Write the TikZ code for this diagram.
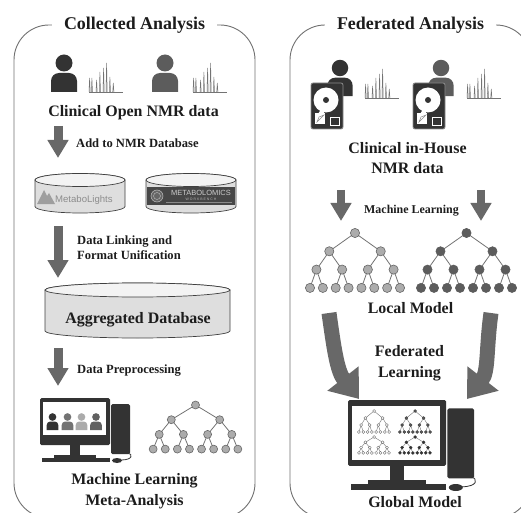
\documentclass[tikz,border=0pt]{standalone}
\usepackage{fontspec}
\setmainfont{Liberation Serif}
\newfontfamily\logofont{Liberation Sans}
\usetikzlibrary{arrows.meta}
\definecolor{cInk}{HTML}{1C1C1C}
\definecolor{cDark}{HTML}{333333}
\definecolor{cMid}{HTML}{5C5C5C}
\definecolor{cArrow}{HTML}{686868}
\definecolor{cLight}{HTML}{ACACAC}
\definecolor{cFrame}{HTML}{707070}
\definecolor{cDrum}{HTML}{DEDEDE}
\definecolor{cDrumTop}{HTML}{F3F3F3}

% person icon, head centre at #1,#2
\newcommand{\person}[4]{%
  \begin{scope}[shift={(#1,#2)}, scale=#3]
    \fill[#4] (0,0) circle[radius=8.5];
    \fill[#4] (-13,29) -- (-13,18) arc[start angle=180, end angle=270, radius=8]
      -- (5,10) arc[start angle=270, end angle=360, radius=8] -- (13,29) -- cycle;
  \end{scope}}

% NMR spectrum, left end of the baseline at #1,#2
\newcommand{\spectrum}[2]{%
  \begin{scope}[shift={(#1,#2)}]
    \draw[spec] (0,0) -- (34,0);
    \foreach \px/\ph in {0.6/14, 2.9/14, 7.6/12, 10.9/20, 14.6/24, 17.6/29, 20.9/15, 24.3/9}
      \draw[spec] (\px-0.6,0) -- (\px,-\ph) -- (\px+0.6,0);
  \end{scope}}

% hard disk, top left corner at #1,#2
\newcommand{\hdd}[2]{%
  \begin{scope}[shift={(#1,#2)}]
    \filldraw[fill=cDark, draw=black!45, line width=0.8bp, rounded corners=2bp] (0,0) rectangle (32,46);
    \fill[white] (15,17) circle[radius=12.5];
    \fill[cDark] (15,17) circle[radius=3];
    \fill[white] (4,30) rectangle (14,41);
    \fill[white] (14,20) -- (17,22) -- (11,33) -- (7,31) -- cycle;
    \draw[black!45, line width=0.5bp] (6,39) -- (13,32) -- (8,34) -- cycle;
    \draw[white, line width=0.7bp] (19,34) rectangle (28,42);
  \end{scope}}

% desktop computer, monitor corner at #1,#2, scale #3, screen bottom #4
\newcommand{\computer}[4]{%
  \begin{scope}[shift={(#1,#2)}, scale=#3]
    \fill[cDark, rounded corners=1.5bp] (0,0) rectangle (70,47);
    \fill[white] (3,4) rectangle (66,#4);
    \fill[cDark] (30,46) rectangle (40,58);
    \fill[cDark] (14,57) rectangle (56,60);
    \fill[cDark] (2,60) rectangle (70,64);
    \fill[cDark, rounded corners=1.5bp] (71,6) rectangle (90,56);
    \fill[cDark] (77,62.5) ellipse[x radius=5, y radius=2.5];
    \draw[cDark, line width=0.8bp] (81,62) .. controls (93,62) and (93,56) .. (88,55);
  \end{scope}}

% database drum: centre x, top y, bottom y, x radius, y radius
\newcommand{\dbdrum}[5]{%
  \filldraw[drum] ({#1-#4},#2) -- ({#1-#4},#3)
    arc[start angle=180, end angle=0, x radius=#4, y radius=#5]
    -- ({#1+#4},#2) arc[start angle=0, end angle=-180, x radius=#4, y radius=#5] -- cycle;
  \filldraw[drumtop] (#1,#2) ellipse[x radius=#4, y radius=#5];}

% full binary tree of depth 3: centre x, root y, leaf gap, level gap, radius, fill, outline
\newcommand{\bintree}[7]{%
  \foreach \lv in {0,1,2} {
    \pgfmathtruncatemacro{\nn}{2^\lv-1}
    \foreach \ix in {0,...,\nn} {
      \pgfmathsetmacro{\xa}{#1+(\ix-\nn/2)*#3*2^(3-\lv)}
      \pgfmathsetmacro{\xb}{#1+(2*\ix-(2*\nn+1)/2)*#3*2^(2-\lv)}
      \pgfmathsetmacro{\xc}{\xb+#3*2^(2-\lv)}
      \pgfmathsetmacro{\ya}{#2+\lv*#4}
      \pgfmathsetmacro{\yb}{\ya+#4}
      \draw[treeedge] (\xb,\yb) -- (\xa,\ya) -- (\xc,\yb);
    }
  }
  \foreach \lv in {0,...,3} {
    \pgfmathtruncatemacro{\nn}{2^\lv-1}
    \foreach \ix in {0,...,\nn} {
      \pgfmathsetmacro{\xa}{#1+(\ix-\nn/2)*#3*2^(3-\lv)}
      \filldraw[treenode, fill=#6, draw=#7] (\xa,{#2+\lv*#4}) circle[radius=#5];
    }
  }}

\begin{document}
\begin{tikzpicture}[x=1bp, y=-1bp,
  panel/.style={draw=cFrame, line width=0.9bp, rounded corners=35bp},
  paneltitle/.style={fill=white, inner xsep=12bp, inner ysep=2bp, anchor=base,
    text=cInk, font=\fontsize{18}{20}\selectfont\bfseries},
  biglabel/.style={anchor=base, align=center, inner sep=0pt, text=cInk,
    font=\fontsize{16}{20.5}\selectfont\bfseries},
  steplabel/.style={anchor=base west, align=left, inner sep=0pt, text=cInk,
    font=\fontsize{12.6}{15.5}\selectfont\bfseries},
  flow/.style={draw=cArrow, line width=9bp, -{Triangle[length=18bp, width=20bp]}},
  fedflow/.style={draw=cArrow, line width=15bp, -{Triangle[length=26bp, width=38bp]}},
  drum/.style={fill=cDrum, draw=black!75, line width=0.7bp},
  drumtop/.style={fill=cDrumTop, draw=black!75, line width=0.7bp},
  spec/.style={draw=black!55, line width=0.5bp},
  treeedge/.style={draw=black!55, line width=0.8bp},
  treenode/.style={line width=0.6bp},
]
\useasboundingbox (0,0) rectangle (521,513);
\clip (0,0) rectangle (521,513);

% Panels and their titles.
\draw[panel] (14,25) rectangle (255,518);
\draw[panel] (290,25) rectangle (531,518);
\node[paneltitle] (colltitle) at (134.5,30) {Collected Analysis};
\node[paneltitle] (fedtitle) at (410.5,30) {Federated Analysis};

% Collected analysis: open data.
\person{64}{63}{1}{cDark}
\spectrum{89}{92}
\person{165}{63}{1}{cMid}
\spectrum{193}{92}
\node[biglabel] (opendata) at (133.5,117) {Clinical Open NMR data};

\coordinate (addtop) at (58,126);
\coordinate (addtip) at (58,158);
\draw[flow] (addtop) -- (addtip);
\node[steplabel] (addlbl) at (76,148) {Add to NMR Database};

% Public repositories.
\dbdrum{80}{180}{206.5}{45}{6.5}
\fill[black!38] (37,204) -- (44,190) -- (47,196) -- (49,193) -- (55,204) -- cycle;
\node[anchor=base west, inner sep=0pt, text=black!45,
  font=\logofont\fontsize{9.6}{11}\selectfont] (mlights) at (55,203) {MetaboLights};
\dbdrum{191}{180}{206.5}{45}{6.5}
\fill[black!72] (147,187) rectangle (235,205);
\filldraw[fill=black!60, draw=black!25, line width=0.5bp] (157,196) circle[radius=6];
\draw[black!25, line width=0.4bp] (157,196) circle[radius=3.5];
\draw[black!45, line width=0.4bp] (166,202) -- (232,202);
\node[inner sep=0pt, text=black!20,
  font=\logofont\fontsize{7.5}{8}\selectfont] (mworkbench) at (201,193) {METABOLOMICS};
\node[inner sep=0pt, text=black!30,
  font=\logofont\fontsize{3.5}{4}\selectfont] (mwbsub) at (201,199) {W O R K B E N C H};

\coordinate (linktop) at (58,226);
\coordinate (linktip) at (58,278);
\draw[flow] (linktop) -- (linktip);
\node[steplabel] (linklbl) at (77,259.5) {Data Linking and\\Format Unification};

% Aggregated store.
\dbdrum{137.5}{290}{331}{92.5}{7}
\node[biglabel] (agglbl) at (138,323) {Aggregated Database};

\coordinate (pretop) at (58,348);
\coordinate (pretip) at (58,386);
\draw[flow] (pretop) -- (pretip);
\node[steplabel] (prelbl) at (77,373) {Data Preprocessing};

% Central workstation and model.
\computer{40}{398}{1}{37}
\person{52.5}{417}{0.45}{cDark}
\person{67.5}{417}{0.45}{black!55}
\person{81.5}{417}{0.45}{black!33}
\person{96}{417}{0.45}{black!62}
\bintree{195.5}{405}{12.1}{14.7}{4}{cLight}{black!60}
\node[biglabel] (metalbl) at (134.5,505) {Machine Learning\\Meta-Analysis};

% Federated analysis: in-house data.
\person{340}{68}{0.97}{cDark}
\hdd{311}{83}
\spectrum{365}{98}
\person{441}{68}{0.97}{cMid}
\hdd{413}{83}
\spectrum{467}{98}
\node[biglabel] (inhouse) at (407.5,174) {Clinical in-House\\NMR data};

\coordinate (mlLtop) at (341,190);
\coordinate (mlLtip) at (341,221);
\coordinate (mlRtop) at (481,190);
\coordinate (mlRtip) at (481,221);
\draw[flow, line width=8bp] (mlLtop) -- (mlLtip);
\draw[flow, line width=8bp] (mlRtop) -- (mlRtip);
\node[steplabel, anchor=base, font=\fontsize{12}{14}\selectfont\bfseries]
  (mllbl) at (411.5,213) {Machine Learning};

% Local models.
\bintree{355}{233}{12.86}{18.3}{4.6}{cLight}{black!60}
\bintree{466.5}{233}{13}{18.3}{4.6}{cMid}{cMid}
\node[biglabel] (locallbl) at (410.5,313) {Local Model};

\coordinate (fedLtop) at (329,313);
\coordinate (fedLtip) at (359,399);
\coordinate (fedRtop) at (491,313);
\coordinate (fedRtip) at (467,399);
\draw[fedflow] (fedLtop) to[out=-82, in=128] (fedLtip);
\draw[fedflow] (fedRtop) to[out=-98, in=52] (fedRtip);
\node[biglabel] (fedlbl) at (409.5,377) {Federated\\Learning};

% Global model.
\computer{348}{400}{1.4}{42.5}
\begin{scope}[treeedge/.append style={line width=0.4bp}, treenode/.append style={line width=0.35bp}]
  \bintree{374}{411}{4.3}{7}{1.5}{white}{black!60}
  \bintree{415}{411}{4.3}{7}{1.5}{cMid}{cDark}
  \bintree{374}{437}{4.3}{5.3}{1.5}{white}{black!60}
  \bintree{415}{437}{4.3}{5.3}{1.5}{cDark}{cDark}
\end{scope}
\node[biglabel] (globallbl) at (415,507) {Global Model};
\end{tikzpicture}
\end{document}
